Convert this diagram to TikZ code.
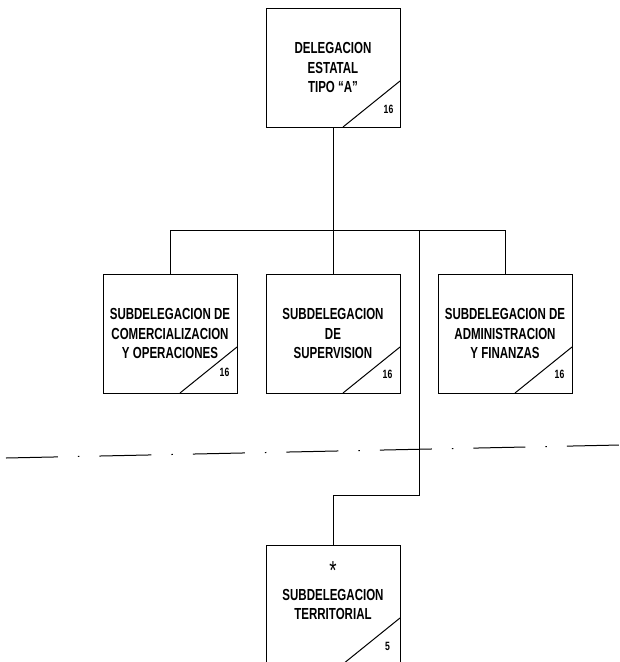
\documentclass[tikz,border=0pt]{standalone}
\usepackage{fontspec}
\newfontfamily\orgfont{Liberation Sans}[FakeStretch=0.72]
\usetikzlibrary{positioning}

\begin{document}
\begin{tikzpicture}[x=1pt,y=-1pt,line width=1pt]
\tikzstyle{box}=[draw, align=center, minimum width=134pt, minimum height=119pt, font=\orgfont\bfseries\fontsize{16}{19.5}\selectfont,
  path picture={\draw ([yshift=46pt]path picture bounding box.south east) -- ([xshift=-57pt]path picture bounding box.south east);}]
\tikzstyle{num}=[inner sep=0pt, font=\orgfont\bfseries\fontsize{12}{14}\selectfont]
\tikzstyle{asterisk}=[inner sep=0pt, font=\orgfont\fontsize{26}{26}\selectfont]
\useasboundingbox (0,0) rectangle (620,662);
% organigrama
\node[box] (top) at (333,67.5) {DELEGACION\\ESTATAL\\TIPO “A”};
\node[box, below=146pt of top] (sup) {SUBDELEGACION\\DE\\SUPERVISION};
\node[box, left=28pt of sup] (com) {SUBDELEGACION DE\\COMERCIALIZACION\\Y OPERACIONES};
\node[box, right=37pt of sup] (adm) {SUBDELEGACION DE\\ADMINISTRACION\\Y FINANZAS};
\node[box, below=151pt of sup] (terr) {SUBDELEGACION\\TERRITORIAL};
\node[asterisk] (terrmark) at ([yshift=-26pt]terr.north) {*};
\node[num] (topnum) at ([xshift=-12pt,yshift=18pt]top.south east) {16};
\node[num] (comnum) at ([xshift=-13pt,yshift=21pt]com.south east) {16};
\node[num] (supnum) at ([xshift=-13pt,yshift=19pt]sup.south east) {16};
\node[num] (admnum) at ([xshift=-13pt,yshift=19pt]adm.south east) {16};
\node[num] (terrnum) at ([xshift=-13pt,yshift=18pt]terr.south east) {5};
\coordinate (bus) at (333,230);
\coordinate (fork) at (419,230);
\coordinate (elbow) at (419,495);
\draw (top.south) -- (sup.north);
\draw (com.north) |- (adm.north |- bus) -- (adm.north);
\draw (fork) -- (elbow) -| (terr.north);
% limite de nivel
\draw[dash pattern=on 52pt off 20pt on 1.5pt off 20pt] (6,458) -- (620,445);
\end{tikzpicture}
\end{document}
